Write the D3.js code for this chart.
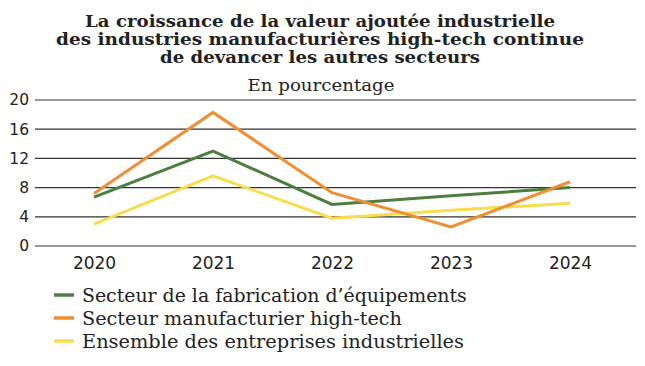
<!DOCTYPE html>
<html><head><meta charset="utf-8">
<script src="https://cdn.jsdelivr.net/npm/d3@7"></script>
<style>body{margin:0;background:#fff}svg{display:block}</style>
</head><body>
<script>
const years = ["2020","2021","2022","2023","2024"];
const equipement = [6.7, 13.0, 5.7, 6.9, 8.0];
const hightech = [7.2, 18.3, 7.3, 2.6, 8.8];
const ensemble = [3.0, 9.6, 3.8, 4.9, 5.85];
const yTicks = [0, 4, 8, 12, 16, 20];
const seriesNames = ["Secteur de la fabrication d\u2019équipements","Secteur manufacturier high-tech","Ensemble des entreprises industrielles"];
const colors = ["#4b7f3d", "#ef8f32", "#f7dc4c"];
const titleLines = ["La croissance de la valeur ajoutée industrielle","des industries manufacturières high-tech continue","de devancer les autres secteurs"];
const subtitle = "En pourcentage";

const W = 645, H = 366;
const svg = d3.select("body").append("svg").attr("width", W).attr("height", H);

function fit(sel, target) {
  const n = sel.node();
  const fs = parseFloat(sel.attr("font-size"));
  const w = n.getComputedTextLength();
  const nf = fs * target / w;
  sel.attr("font-size", nf.toFixed(2));
  return nf;
}

const tfont = "'DejaVu Serif', serif";
const titleW = [470, 528, 320];
const titleY = [27, 45, 63];
titleLines.forEach((t, i) => {
  svg.append("text").attr("x", 320).attr("y", titleY[i]).attr("text-anchor", "middle")
    .attr("font-family", tfont).attr("font-weight", "bold").attr("font-size", 15.8)
    .attr("textLength", titleW[i]).attr("lengthAdjust", "spacingAndGlyphs")
    .attr("fill", "#222").text(t);
});
svg.append("text").attr("x", 321).attr("y", 91).attr("text-anchor", "middle")
  .attr("font-family", tfont).attr("font-size", 16.5)
  .attr("textLength", 147).attr("lengthAdjust", "spacingAndGlyphs")
  .attr("fill", "#222").text(subtitle);

const x = d3.scalePoint().domain(years).range([94, 570]);
const y = d3.scaleLinear().domain([0, 20]).range([246, 100]);

const sans = "'DejaVu Sans', sans-serif";
const grid = svg.append("g");
grid.selectAll("line").data(yTicks).join("line")
  .attr("x1", 35).attr("x2", 636).attr("y1", d => y(d)).attr("y2", d => y(d))
  .attr("stroke", "#333").attr("stroke-width", 1.2);

const yAxis = svg.append("g").attr("transform", "translate(35,0)")
  .call(d3.axisLeft(y).tickValues(yTicks).tickSize(0).tickPadding(6));
yAxis.select(".domain").remove();
yAxis.selectAll("text").attr("font-family", sans).attr("font-size", 15.5).attr("fill", "#222");

const xAxis = svg.append("g").attr("transform", "translate(0,246)")
  .call(d3.axisBottom(x).tickSize(0).tickPadding(8));
xAxis.select(".domain").remove();
xAxis.selectAll("text").attr("font-family", sans).attr("font-size", 17).attr("fill", "#222").attr("dy", "0.9em");

const allSeries = [equipement, hightech, ensemble];
const line = d3.line().x((d, i) => x(years[i])).y(d => y(d));
[2, 0, 1].forEach(k => {
  svg.append("path").datum(allSeries[k]).attr("d", line)
    .attr("fill", "none").attr("stroke", colors[k]).attr("stroke-width", 3).attr("stroke-linejoin", "miter");
});

const legY = [295, 318, 341];
const legW = [385, 320, 382];
let legFs = 17;
seriesNames.forEach((n, i) => {
  svg.append("line").attr("x1", 54).attr("x2", 74).attr("y1", legY[i]).attr("y2", legY[i])
    .attr("stroke", colors[i]).attr("stroke-width", 3.5);
  const t = svg.append("text").attr("x", 82).attr("y", legY[i]).attr("dy", "0.35em")
    .attr("font-family", tfont).attr("font-size", legFs).attr("fill", "#222").text(n);
  if (i === 0) legFs = fit(t, legW[0]);
  else t.attr("textLength", legW[i]).attr("lengthAdjust", "spacingAndGlyphs");
});
</script>
</body></html>
